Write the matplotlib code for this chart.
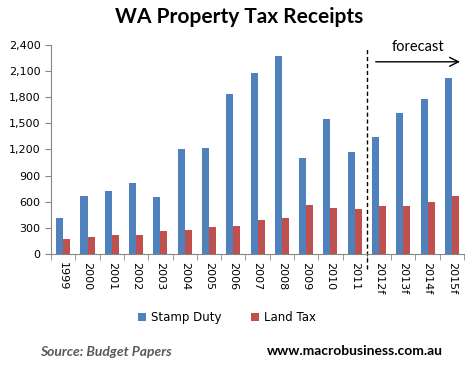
import numpy as np
import matplotlib
matplotlib.use("Agg")
from matplotlib import pyplot as plt

years = ['1999', '2000', '2001', '2002', '2003', '2004', '2005', '2006', '2007',
         '2008', '2009', '2010', '2011', '2012f', '2013f', '2014f', '2015f']
stamp_duty = [413, 665, 722, 814, 653, 1204, 1215, 1834, 2075,
              2270, 1101, 1548, 1169, 1341, 1617, 1777, 2018]
land_tax = [172, 195, 218, 218, 264, 275, 310, 321, 390,
            413, 562, 527, 516, 550, 550, 596, 665]

blue = '#4F81BD'
red = '#C0504D'
grey = '#868686'

fig = plt.figure(figsize=(4.73, 3.71), dpi=100)
ax = fig.add_axes([0.108, 0.3154, 0.873, 0.5641])

x = np.arange(len(years))
w = 0.29
ax.bar(x - w / 2, stamp_duty, w, color=blue, label='Stamp Duty')
ax.bar(x + w / 2, land_tax, w, color=red, label='Land Tax')

ax.set_xlim(-0.5, len(years) - 0.5)
ax.set_ylim(0, 2400)
ax.set_yticks(np.arange(0, 2401, 300))
ax.set_yticklabels(['{:,}'.format(v) for v in range(0, 2401, 300)], fontsize=8)

# category labels centred, tick marks between categories
ax.set_xticks(x)
ax.set_xticklabels(years, rotation=-90, fontsize=8)
ax.tick_params(axis='x', length=0, pad=6)
ax.set_xticks(np.arange(-0.5, len(years), 1), minor=True)
ax.tick_params(axis='x', which='minor', length=4, color=grey, direction='out')
ax.tick_params(axis='y', length=4, color=grey, direction='out')

for s in ['top', 'right']:
    ax.spines[s].set_visible(False)
for s in ['left', 'bottom']:
    ax.spines[s].set_color(grey)

# forecast divider and arrow
ax.axvline(12.5, ymin=-0.07, ymax=0.98, color='black', ls=(0, (3, 2)), lw=1, clip_on=False)
ax.annotate('', xy=(16.45, 2204), xytext=(12.75, 2204),
            arrowprops=dict(arrowstyle='->', color='black', lw=1, mutation_scale=16))
ax.text(14.6, 2370, 'forecast', ha='center', va='center', fontsize=10.5, family='Lato')

fig.text(0.505, 0.955, 'WA Property Tax Receipts', ha='center', va='center',
         fontsize=15, fontweight='bold', family='Lato')

fig.legend(loc='center', bbox_to_anchor=(0.48, 0.143), ncol=2, frameon=False,
           fontsize=8.5, handlelength=0.7, handleheight=0.7, columnspacing=2.5,
           handletextpad=0.4)

fig.text(0.085, 0.05, 'Source: Budget Papers', ha='left', va='center', fontsize=10,
         fontstyle='italic', fontweight='bold', color='#595959', family='Lato')
fig.text(0.565, 0.055, 'www.macrobusiness.com.au', ha='left', va='center', fontsize=10,
         fontweight='bold', family='Lato')

fig.savefig('out.png', dpi=100)
